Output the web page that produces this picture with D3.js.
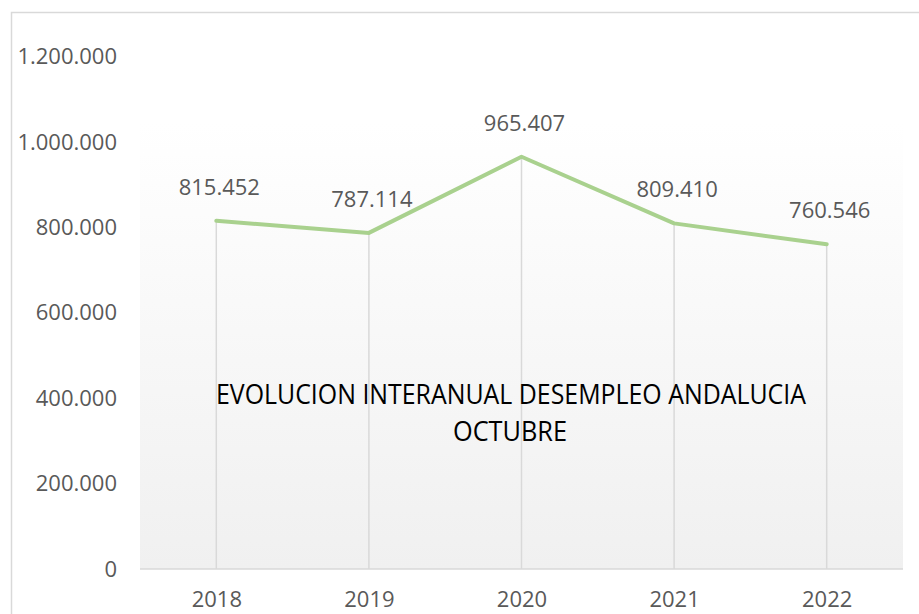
<!DOCTYPE html>
<html>
<head>
<meta charset="utf-8">
<script src="https://cdn.jsdelivr.net/npm/d3@7"></script>
<style>
  html, body { margin: 0; padding: 0; background: #ffffff; }
  svg { display: block; }
</style>
</head>
<body>
<svg id="chart" width="919" height="614"></svg>
<script>
// ---- data ----
const years = ["2018", "2019", "2020", "2021", "2022"];
const desempleo = [815452, 787114, 965407, 809410, 760546];
const yTicks = [0, 200000, 400000, 600000, 800000, 1000000, 1200000];
const titleLines = ["EVOLUCION INTERANUAL DESEMPLEO ANDALUCIA", "OCTUBRE"];

// ---- layout ----
const W = 919, H = 614;
const plot = { left: 140, right: 903, top: 123, bottom: 569 };
const svg = d3.select("#chart");
const fmt = v => d3.format(",")(v).replace(/,/g, ".");
const font = "'Open Sans', 'DejaVu Sans', sans-serif";
const labelSize = 22;

const x = d3.scalePoint().domain(years).range([plot.left, plot.right]).padding(0.5);
const y = d3.scaleLinear().domain([0, 1200000]).range([plot.bottom, 56.6]);

// outer frame
svg.append("rect")
  .attr("x", 11.5).attr("y", 12.5).attr("width", W + 20).attr("height", H + 20)
  .attr("fill", "none").attr("stroke", "#d9d9d9").attr("stroke-width", 1.5);

// plot background gradient
const defs = svg.append("defs");
const grad = defs.append("linearGradient").attr("id", "bg").attr("x1", 0).attr("y1", 0).attr("x2", 0).attr("y2", 1);
grad.append("stop").attr("offset", "0%").attr("stop-color", "#ffffff");
grad.append("stop").attr("offset", "100%").attr("stop-color", "#f0f0f0");
svg.append("rect")
  .attr("x", plot.left).attr("y", plot.top)
  .attr("width", plot.right - plot.left).attr("height", plot.bottom - plot.top)
  .attr("fill", "url(#bg)");

// drop lines
svg.append("g").selectAll("line").data(years).join("line")
  .attr("x1", d => x(d)).attr("x2", d => x(d))
  .attr("y1", (d, i) => y(desempleo[i])).attr("y2", y(0))
  .attr("stroke", "#d9d9d9").attr("stroke-width", 1.5);

// x axis line
svg.append("line")
  .attr("x1", plot.left).attr("x2", plot.right)
  .attr("y1", y(0)).attr("y2", y(0))
  .attr("stroke", "#d9d9d9").attr("stroke-width", 1.5);

// y axis labels
const yAxis = d3.axisLeft(y).tickValues(yTicks).tickFormat(fmt).tickSize(0).tickPadding(0);
const gy = svg.append("g").attr("transform", "translate(117,0)").call(yAxis);
gy.select(".domain").remove();
gy.selectAll("text")
  .attr("font-family", font).attr("font-size", labelSize).attr("fill", "#595959");

// x axis labels
const xAxis = d3.axisBottom(x).tickSize(0).tickPadding(0);
const gx = svg.append("g").attr("transform", `translate(0,${y(0)})`).call(xAxis);
gx.select(".domain").remove();
gx.selectAll("text")
  .attr("dy", null).attr("y", 38)
  .attr("font-family", font).attr("font-size", labelSize).attr("fill", "#595959");

// line
const line = d3.line().x((d, i) => x(years[i])).y(d => y(d));
svg.append("path")
  .datum(desempleo)
  .attr("d", line)
  .attr("fill", "none")
  .attr("stroke", "#a9d18e")
  .attr("stroke-width", 4)
  .attr("stroke-linejoin", "round")
  .attr("stroke-linecap", "round");

// data labels
svg.append("g").selectAll("text").data(desempleo).join("text")
  .attr("x", (d, i) => x(years[i]) + 3)
  .attr("y", d => y(d) - 26)
  .attr("text-anchor", "middle")
  .attr("font-family", font).attr("font-size", labelSize).attr("fill", "#595959")
  .text(d => fmt(d));

// title (inside plot)
svg.append("text")
  .attr("x", 511).attr("y", 404)
  .attr("text-anchor", "middle")
  .attr("font-family", font).attr("font-size", 28).attr("fill", "#000000")
  .attr("textLength", 590).attr("lengthAdjust", "spacingAndGlyphs")
  .text(titleLines[0]);
svg.append("text")
  .attr("x", 510).attr("y", 441)
  .attr("text-anchor", "middle")
  .attr("font-family", font).attr("font-size", 28).attr("fill", "#000000")
  .attr("textLength", 114).attr("lengthAdjust", "spacingAndGlyphs")
  .text(titleLines[1]);
</script>
</body>
</html>
